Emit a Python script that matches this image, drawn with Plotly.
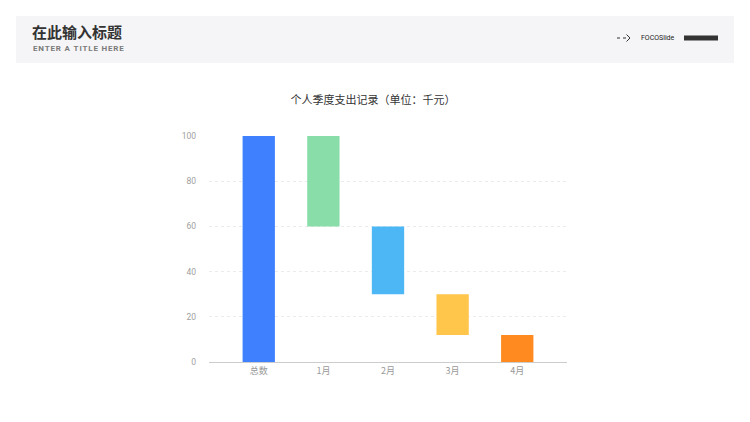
import plotly.graph_objects as go

categories = ["总数", "1月", "2月", "3月", "4月"]
bar_bottoms = [0, 60, 30, 12, 0]
bar_tops = [100, 100, 60, 30, 12]
bar_colors = ["#3F80FF", "#88DDA8", "#4DB7F5", "#FFC64B", "#FF8A20"]
y_ticks = [0, 20, 40, 60, 80, 100]
chart_title = "个人季度支出记录（单位：千元）"

OFF = 8  # page body margin
W, H = 750 - OFF, 422 - OFF
L, R, T, B = 209 - OFF, 567 - OFF, 136 - OFF, 362 - OFF


def px(x):
    return (x - OFF - L) / (R - L)


def py(y):
    return (B - (y - OFF)) / (B - T)


def spaced(s):
    return "\u200a".join(s)


fig = go.Figure()
fig.add_trace(go.Bar(
    x=categories,
    y=[t - b for t, b in zip(bar_tops, bar_bottoms)],
    base=bar_bottoms,
    marker=dict(color=bar_colors, line=dict(width=0)),
    width=0.5,
    hoverinfo="skip",
))

cjk = "Noto Sans CJK SC"
shapes = [
    dict(type="rect", xref="paper", yref="paper", x0=px(16), x1=px(734), y0=py(16), y1=py(63),
         fillcolor="#F5F5F7", line=dict(width=0), layer="below"),
    dict(type="rect", xref="paper", yref="paper", x0=px(684), x1=px(718), y0=py(35.5), y1=py(40.5),
         fillcolor="#333333", line=dict(width=0)),
    dict(type="line", xref="paper", yref="paper", x0=px(617), x1=px(626), y0=py(38), y1=py(38),
         line=dict(color="#333333", width=1, dash="dot")),
    dict(type="path", xref="paper", yref="paper",
         path=f"M {px(626.5)},{py(34.5)} L {px(630)},{py(38)} L {px(626.5)},{py(41.5)}",
         line=dict(color="#333333", width=1)),
]

annotations = [
    dict(text="<b>在此输入标题</b>", xref="paper", yref="paper", x=px(31), y=py(31.5),
         xanchor="left", yanchor="middle", showarrow=False, borderpad=0,
         font=dict(family=cjk, size=15, color="#333333")),
    dict(text="<b>" + spaced("ENTER A TITLE HERE") + "</b>", xref="paper", yref="paper",
         x=px(31.5), y=py(48), xanchor="left", yanchor="middle", showarrow=False, borderpad=0,
         font=dict(family="Roboto", size=8, color="#7A7A7A")),
    dict(text="FOCOSlide", xref="paper", yref="paper", x=px(639), y=py(38),
         xanchor="left", yanchor="middle", showarrow=False,
         font=dict(family="Roboto", size=7, color="#222222")),
]

fig.update_layout(
    width=W, height=H,
    margin=dict(l=L, r=W - R, t=T, b=H - B, pad=0),
    paper_bgcolor="white", plot_bgcolor="white",
    showlegend=False,
    title=dict(text=chart_title, x=(373 - OFF) / W, xref="container", xanchor="center",
               y=1 - (100 - OFF) / H, yref="container", yanchor="middle",
               font=dict(family=cjk, size=11, color="#333333")),
    font=dict(family=cjk),
    shapes=shapes,
    annotations=annotations,
)
fig.update_xaxes(
    range=[-0.77, 4.77], showgrid=False, showline=True, linecolor="#CCCCCC", linewidth=1,
    ticks="", tickfont=dict(family=cjk, size=9, color="#999999"), fixedrange=True,
)
fig.update_yaxes(
    range=[0, 100], tickvals=y_ticks, showgrid=True, gridcolor="#EBEBEB", griddash="dot",
    gridwidth=1, zeroline=False, showline=False, ticks="",
    tickfont=dict(family="Roboto", size=8.5, color="#A0A0A0"), ticklabelstandoff=12,
    fixedrange=True,
)

fig.write_html("out.html")
